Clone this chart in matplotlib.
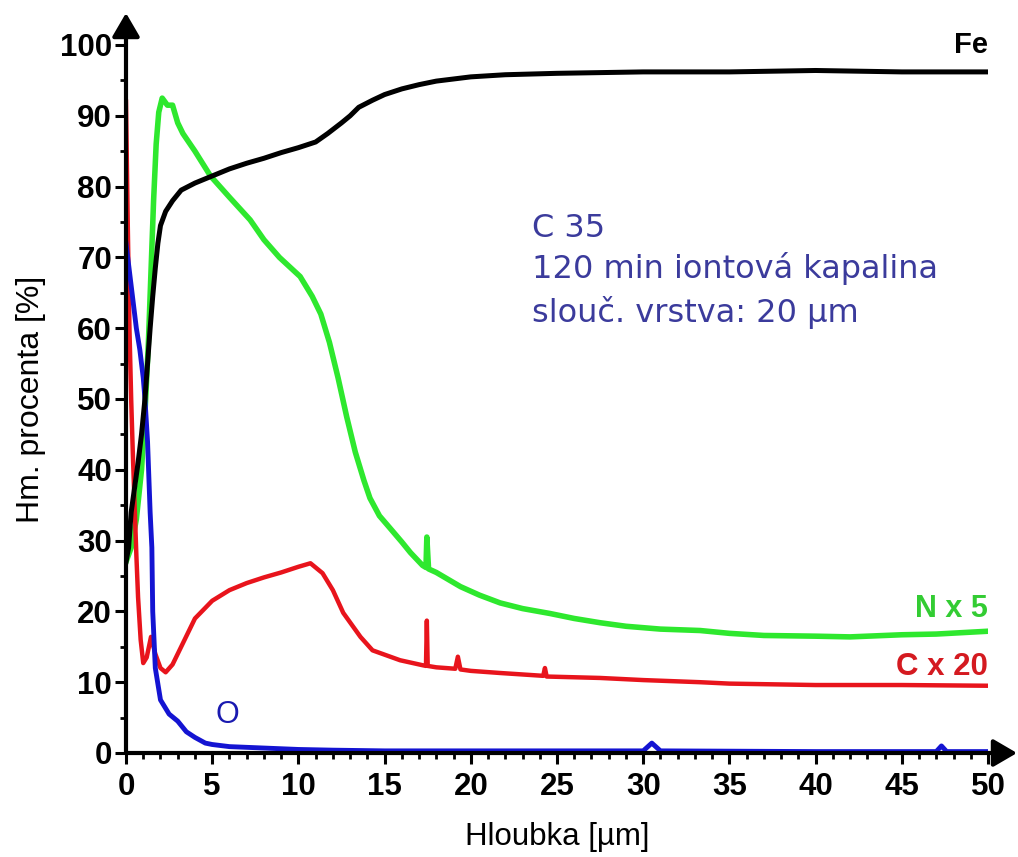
import matplotlib
matplotlib.use("Agg")
import matplotlib.pyplot as plt
from matplotlib.ticker import MultipleLocator

plt.rcParams['font.family'] = ['Liberation Sans', 'DejaVu Sans']

# ---- data ----
fe_x = [0, 0.15, 0.3, 0.5, 0.7, 0.9, 1.1, 1.25, 1.4, 1.55, 1.7, 1.85, 2.0, 2.3, 2.7, 3.2,
        4, 5, 6, 7, 8, 9, 10, 11, 11.7, 12.5, 13, 13.5, 14.3, 15, 16, 17, 18, 19, 20,
        22, 25, 30, 35, 40, 45, 50]
fe_y = [27, 29, 34, 37.5, 41, 45, 50, 55, 60, 64.5, 68.5, 72, 74.5, 76.5, 78, 79.5,
        80.5, 81.5, 82.5, 83.3, 84, 84.8, 85.5, 86.3, 87.5, 89, 90, 91.2, 92.2, 93, 93.8,
        94.4, 94.9, 95.2, 95.5, 95.8, 96.0, 96.2, 96.2, 96.4, 96.2, 96.2]

n_x = [0, 0.3, 0.6, 0.9, 1.1, 1.3, 1.45, 1.6, 1.75, 1.9, 2.1, 2.4, 2.7, 3.0, 3.3, 4,
       4.9, 6, 7.2, 8, 8.9, 10.1, 10.8, 11.3, 11.8, 12.3, 12.8, 13.3, 13.8, 14.15, 14.7,
       15.3, 16, 16.5, 17.2, 17.4, 17.45, 17.55, 18, 18.7, 19.4, 20.5, 21.7, 23, 24.6,
       26, 27.5, 29, 31, 33.3, 35, 37, 40, 42, 45, 47, 50]
n_y = [27, 29, 33, 40, 48, 58, 68, 78, 86, 90.5, 92.5, 91.5, 91.5, 89, 87.5, 85,
       81.5, 78.5, 75.3, 72.5, 70, 67.3, 64.5, 62, 58, 53, 47.5, 42.5, 38.5, 36, 33.5,
       31.8, 29.8, 28.3, 26.5, 26.2, 30.5, 26.0, 25.5, 24.5, 23.5, 22.3, 21.2, 20.4, 19.7,
       19.0, 18.4, 17.9, 17.5, 17.3, 16.9, 16.6, 16.5, 16.4, 16.7, 16.8, 17.2]

c_x = [0, 0.1, 0.2, 0.3, 0.4, 0.5, 0.6, 0.7, 0.85, 1.0, 1.2, 1.45, 1.7, 2.0, 2.3, 2.7,
       3.2, 4, 5, 6, 7, 8, 9, 10, 10.7, 11.4, 12, 12.6, 13.6, 14.3, 15.9, 17.2, 17.4,
       17.45, 17.5, 18, 19.1, 19.25, 19.4, 20, 21.7, 24.2, 24.3, 24.4, 27.5, 30, 33.3,
       35, 40, 45, 50]
c_y = [92, 75, 60, 50, 42, 35, 28, 22, 16, 12.7, 13.5, 16.4, 14, 12, 11.4, 12.5,
       15, 19, 21.5, 23, 24, 24.8, 25.5, 26.3, 26.8, 25.4, 23, 19.8, 16.4, 14.5, 13.1, 12.4, 12.3,
       18.7, 12.3, 12.1, 11.9, 13.6, 11.8, 11.6, 11.3, 10.9, 12.0, 10.8, 10.6, 10.3, 10.0,
       9.8, 9.6, 9.6, 9.5]

o_x = [0, 0.3, 0.6, 0.8, 1.0, 1.1, 1.25, 1.4, 1.5, 1.55, 1.7, 2.0, 2.5, 3.0, 3.5, 4,
       4.6, 5, 6, 7, 8, 10, 12, 15, 20, 30, 30.5, 31, 40, 47, 47.3, 47.6, 50]
o_y = [72, 66, 60, 57, 53, 50, 44, 34, 29, 20, 12, 7.5, 5.5, 4.5, 3, 2.2,
       1.4, 1.2, 0.9, 0.8, 0.7, 0.5, 0.4, 0.3, 0.3, 0.3, 1.4, 0.3, 0.2, 0.2, 1.0, 0.2, 0.2]

x_ticks = [0, 5, 10, 15, 20, 25, 30, 35, 40, 45, 50]
y_ticks = [0, 10, 20, 30, 40, 50, 60, 70, 80, 90, 100]

# ---- figure ----
W, H = 1018, 857
fig = plt.figure(figsize=(W / 100, H / 100), dpi=100)
L, R, B, T = 126, 988, 753, 45
ax = fig.add_axes([L / W, (H - B) / H, (R - L) / W, (B - T) / H])

ax.plot(n_x, n_y, color='#2ee82e', lw=4.0, zorder=2)
ax.plot(c_x, c_y, color='#e8141c', lw=3.2, zorder=3)
ax.plot(o_x, o_y, color='#1414d2', lw=3.5, zorder=4)
ax.plot(fe_x, fe_y, color='black', lw=3.6, zorder=5)

ax.set_xlim(0, 50)
ax.set_ylim(0, 100)
for s in ax.spines.values():
    s.set_visible(False)

ax.set_xticks(x_ticks)
ax.set_yticks(y_ticks)
ax.xaxis.set_minor_locator(MultipleLocator(1))
ax.yaxis.set_minor_locator(MultipleLocator(5))
ax.tick_params(axis='both', which='major', direction='out', length=8, width=2.2,
               labelsize=22.5, color='black')
ax.tick_params(axis='both', which='minor', direction='out', length=4.5, width=2.0)
ax.tick_params(axis='x', which='major', pad=6)
ax.tick_params(axis='y', which='major', pad=2)
for lab in ax.get_xticklabels() + ax.get_yticklabels():
    lab.set_fontweight('bold')

# axis lines with arrows
arrow_kw = dict(arrowstyle='-|>,head_length=0.72,head_width=0.42', lw=3, color='black',
                mutation_scale=20, shrinkA=0, shrinkB=0)
ax.annotate('', xy=(0, (B - 13) / (B - T)), xytext=(0, 0), xycoords='axes fraction',
            arrowprops=arrow_kw, annotation_clip=False, zorder=10)
ax.annotate('', xy=((1017 - L) / (R - L), 0), xytext=(0, 0), xycoords='axes fraction',
            arrowprops=arrow_kw, annotation_clip=False, zorder=10)

ax.set_xlabel('Hloubka [µm]', fontsize=22.5, labelpad=14)
ax.set_ylabel('Hm. procenta [%]', fontsize=23, labelpad=10)

# annotations
info_col = '#3b3b9c'
ax.text(23.55, 72.9, 'C 35', fontsize=23, color=info_col, family='DejaVu Sans', va='baseline')
ax.text(23.55, 67.1, '120 min iontová kapalina', fontsize=23, color=info_col,
        family='DejaVu Sans', va='baseline')
ax.text(23.55, 60.9, 'slouč. vrstva: 20 µm', fontsize=23, color=info_col,
        family='DejaVu Sans', va='baseline')

ax.text(50, 98.9, 'Fe', fontsize=21, fontweight='bold', color='black', ha='right', va='baseline')
ax.text(50, 19.2, 'N x 5', fontsize=22, fontweight='bold', color='#33cc33', ha='right', va='baseline')
ax.text(50, 11.0, 'C x 20', fontsize=22.5, fontweight='bold', color='#d41a20', ha='right', va='baseline')
ax.text(5.9, 4.3, 'O', fontsize=22, color='#1a1ab0', ha='center', va='baseline')

fig.savefig('out.png', dpi=100)
